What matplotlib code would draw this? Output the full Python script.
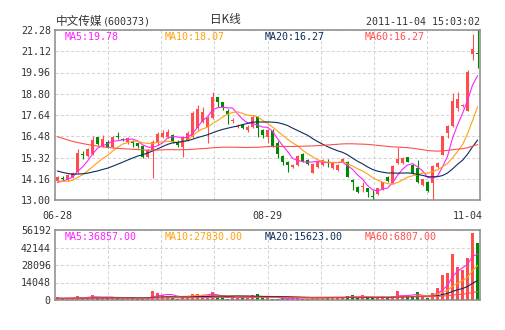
import matplotlib
matplotlib.use('Agg')
import matplotlib.pyplot as plt
import matplotlib.transforms as mtransforms
import numpy as np
import pandas as pd

# daily bars 2011-06-28 .. 2011-11-04, 600373
opens = [14.05, 14.20, 14.13, 14.27, 14.55, 15.52, 15.40, 15.49, 16.42, 15.95,
         16.18, 15.87, 16.50, 16.34, 16.18, 16.24, 16.09, 15.95, 15.36, 15.73,
         16.09, 16.42, 16.46, 16.55, 16.18, 15.91, 16.27, 16.46, 16.91, 17.27,
         17.00, 17.46, 18.60, 18.33, 17.86, 17.33, 17.00, 17.09, 16.82, 17.00,
         17.51, 16.82, 16.46, 16.78, 16.13, 15.40, 15.09, 14.78, 14.91, 15.51,
         15.18, 14.49, 14.78, 14.91, 15.09, 14.73, 14.64, 15.09, 15.09, 14.09,
         13.73, 13.69, 13.64, 13.24, 13.31, 13.60, 14.24, 13.91, 15.00, 15.00,
         15.33, 14.91, 14.73, 13.82, 14.00, 13.95, 14.78, 15.46, 16.67, 17.04,
         18.00, 18.13, 17.88, 20.97, 21.02]
highs = [14.31, 14.30, 14.42, 14.52, 15.76, 15.70, 15.85, 16.49, 16.45, 16.55,
         16.25, 16.50, 16.69, 16.40, 16.42, 16.30, 16.12, 16.00, 15.78, 16.30,
         16.70, 16.80, 16.85, 16.62, 16.25, 16.50, 16.75, 17.85, 18.19, 18.10,
         17.60, 18.88, 18.62, 18.35, 17.95, 17.50, 17.15, 17.15, 17.10, 17.62,
         17.60, 16.85, 16.90, 16.85, 16.20, 15.45, 15.12, 14.97, 15.45, 15.55,
         15.22, 15.00, 15.15, 15.25, 15.22, 15.05, 14.95, 15.27, 15.12, 14.12,
         13.76, 14.00, 13.68, 13.54, 13.68, 13.98, 14.30, 14.92, 15.87, 15.34,
         15.36, 14.95, 15.18, 14.17, 14.04, 14.92, 15.10, 16.52, 17.08, 18.82,
         18.91, 18.25, 20.10, 22.06, 22.28]
lows = [14.00, 14.05, 14.05, 14.22, 14.50, 15.24, 15.35, 15.45, 16.00, 15.90,
        15.85, 15.83, 16.31, 16.22, 16.05, 15.90, 15.85, 15.30, 15.30, 14.18,
        16.00, 16.38, 16.40, 16.10, 15.90, 15.36, 16.20, 16.40, 16.80, 17.20,
        16.13, 17.40, 18.10, 17.90, 17.13, 17.20, 16.95, 16.85, 16.70, 16.95,
        16.46, 16.37, 16.09, 15.90, 15.27, 14.91, 14.54, 14.72, 14.85, 15.10,
        14.90, 14.45, 14.72, 14.85, 14.78, 14.70, 14.60, 15.05, 14.24, 13.54,
        13.40, 13.45, 13.18, 13.00, 13.28, 13.56, 13.96, 13.85, 14.95, 14.95,
        15.05, 14.40, 13.95, 13.78, 13.45, 13.00, 14.72, 15.45, 16.36, 17.00,
        17.88, 18.05, 17.85, 20.66, 20.21]
closes = [14.24, 14.16, 14.36, 14.45, 15.58, 15.45, 15.77, 16.27, 16.06, 16.31,
          15.91, 16.46, 16.43, 16.30, 16.37, 16.09, 15.95, 15.36, 15.73, 16.18,
          16.60, 16.68, 16.73, 16.18, 16.00, 16.46, 16.68, 17.77, 17.95, 17.82,
          17.46, 18.60, 18.37, 18.06, 17.68, 17.38, 17.06, 16.91, 17.00, 17.55,
          16.91, 16.55, 16.82, 15.95, 15.51, 15.09, 14.91, 14.91, 15.40, 15.15,
          14.96, 14.96, 15.09, 15.18, 15.00, 15.00, 14.91, 15.22, 14.27, 14.00,
          13.45, 13.76, 13.45, 13.15, 13.64, 13.96, 14.05, 14.86, 15.22, 15.31,
          15.09, 14.45, 14.00, 14.14, 13.51, 14.86, 15.04, 16.49, 17.04, 18.42,
          18.49, 18.18, 20.00, 21.26, 20.97]
volumes = [2080, 1040, 1690, 1690, 3120, 1040, 2730, 4160, 1430, 2080,
           1430, 2080, 1430, 780, 1690, 1430, 780, 1430, 2080, 7000,
           5300, 4160, 3510, 1430, 1040, 2080, 2470, 5200, 5200, 4160,
           3510, 6240, 1430, 1430, 1040, 2730, 2470, 1430, 2470, 3770,
           4550, 1430, 2080, 1040, 1040, 1430, 1040, 2080, 2080, 1040,
           1040, 2080, 2080, 2470, 1430, 2080, 2080, 2080, 3120, 3770,
           1430, 3770, 1430, 1430, 2230, 2200, 1300, 3100, 7400, 3300,
           2800, 3300, 6200, 3300, 1260, 6000, 9500, 20200, 21300, 37015,
           26800, 23900, 33500, 54000, 46085]

# sessions before 06-28, only used to seed the moving averages
prev_closes = [19.6, 19.5, 19.3, 19.2, 19.0, 18.9, 18.8, 18.6, 18.5, 18.3,
               18.0, 17.9, 17.5, 17.2, 17.0, 16.8, 16.6, 16.5, 16.3, 16.2,
               16.1, 16.0, 16.2, 16.3, 16.4, 16.5, 16.6, 16.7, 16.8, 16.61,
               16.9, 17.1, 17.3, 17.5, 17.6, 17.4, 17.3, 17.2, 17.0, 16.78,
               15.6, 15.5, 15.3, 15.4, 15.2, 15.1, 15.0, 14.9, 14.7, 14.5,
               14.4, 14.2, 14.1, 14.0, 13.9, 13.8, 13.9, 13.85, 14.01]
prev_volumes = [1800, 1500, 1600, 2100, 1400, 1300, 1700, 1900, 1500, 1200,
                1400, 1600, 1300, 1100, 1500, 1800, 1400, 1200, 1300, 1600,
                1500, 1400, 1700, 1300, 1200, 1100, 1400, 1600, 1500, 1300,
                1200, 1400, 1800, 1600, 1300, 1200, 1100, 1300, 1500, 1400,
                1600, 1300, 1200, 1400, 1100, 1000, 1300, 1500, 1200, 1100,
                1400, 1300, 1200, 1000, 1100, 1300, 1200, 1400, 1100]

date_labels = ['06-28', '08-29', '11-04']
date_pos = [0, 42, 84]
price_ticks = [13.00, 14.16, 15.32, 16.48, 17.64, 18.80, 19.96, 21.12, 22.28]
vol_ticks = [0, 14048, 28096, 42144, 56192]
ma_periods = [5, 10, 20, 60]
ma_colors = ['#ff22ff', '#ffa010', '#0c2d5a', '#ff5050']
price_ma_text = ['MA5:19.78', 'MA10:18.07', 'MA20:16.27', 'MA60:16.27']
vol_ma_text = ['MA5:36857.00', 'MA10:27830.00', 'MA20:15623.00', 'MA60:6807.00']

UP, DOWN = '#ff4d4d', '#008a00'
GRID, FRAME, TXT = '#d4d4d4', '#8a8a8a', '#333333'
W, H = 505, 330

plt.rcParams['font.family'] = ['DejaVu Sans Mono']
fig = plt.figure(figsize=(W / 100, H / 100), dpi=100)


def px_axes(left, top, right, bottom):
    return fig.add_axes([left / W, 1 - bottom / H,
                         (right - left) / W, (bottom - top) / H])


def rolling(prev, vals, n):
    s = pd.Series(list(prev) + list(vals), dtype=float)
    return s.rolling(n).mean().to_numpy()[len(prev):]


ax = px_axes(55, 30, 480, 200)
axv = px_axes(55, 230, 480, 300)

o, h, l, c = map(np.asarray, (opens, highs, lows, closes))
x = np.arange(len(c))
col = np.where(c >= o, UP, DOWN)
n = len(c)
vgrid = [-0.5 + n / 8 * k for k in range(1, 8)]

for a in (ax, axv):
    a.set_xlim(-0.5, n - 0.5)
    a.set_xticks(vgrid)
    a.set_xticklabels([])
    a.grid(True, ls=(0, (3, 2)), color=GRID, lw=0.75)
    a.set_axisbelow(True)
    a.tick_params(length=0, pad=3, labelsize=7.2, labelcolor=TXT)
    for sp in a.spines.values():
        sp.set_color(FRAME)
        sp.set_linewidth(1.1)

# candles
ax.vlines(x, l, h, colors=col, lw=0.8, zorder=2)
body = np.maximum(np.abs(c - o), 0.05)
ax.bar(x, body, bottom=np.minimum(o, c), width=0.76, color=col,
       lw=0, zorder=3)
for p, clr in zip(ma_periods, ma_colors):
    ax.plot(x, rolling(prev_closes, closes, p), color=clr, lw=0.8, zorder=4)
ax.set_ylim(price_ticks[0], price_ticks[-1])
ax.set_yticks(price_ticks)
ax.set_yticklabels([f'{t:.2f}' for t in price_ticks])

# volume
axv.bar(x, volumes, width=0.7, color=col, lw=0, zorder=2)
for p, clr in zip(ma_periods, ma_colors):
    axv.plot(x, rolling(prev_volumes, volumes, p), color=clr, lw=0.8, zorder=3)
axv.set_ylim(vol_ticks[0], vol_ticks[-1])
axv.set_yticks(vol_ticks)
axv.set_yticklabels([str(t) for t in vol_ticks])

# date labels under the price panel
tr = mtransforms.blended_transform_factory(ax.transData, ax.transAxes)
for i, (pos, lab) in enumerate(zip(date_pos, date_labels)):
    ha = 'right' if i == len(date_pos) - 1 else 'center'
    xx = pos + 1.1 if ha == 'right' else pos
    ax.text(xx, -16 / 170, lab, transform=tr, ha=ha, va='center',
            fontsize=7.2, color=TXT)

# header
cjk = ['Noto Sans CJK SC', 'DejaVu Sans']
fig.text(56 / W, 1 - 21 / H, '中文传媒', family=cjk, fontsize=8.4,
         color=TXT, va='center')
fig.text(103 / W, 1 - 21 / H, '(600373)', fontsize=7.2, color=TXT,
         va='center')
fig.text(225 / W, 1 - 20 / H, '日K线', family=cjk, fontsize=8.4,
         color=TXT, va='center', ha='center')
fig.text(480 / W, 1 - 22 / H, '2011-11-04 15:03:02', fontsize=7.2,
         color=TXT, va='center', ha='right')

for k, clr in enumerate(ma_colors):
    fig.text((65 + 100 * k) / W, 1 - 37 / H, price_ma_text[k], fontsize=7.2,
             color=clr, va='center')
    fig.text((65 + 100 * k) / W, 1 - 237 / H, vol_ma_text[k], fontsize=7.2,
             color=clr, va='center')

fig.savefig('out.png', dpi=100, facecolor='white')
